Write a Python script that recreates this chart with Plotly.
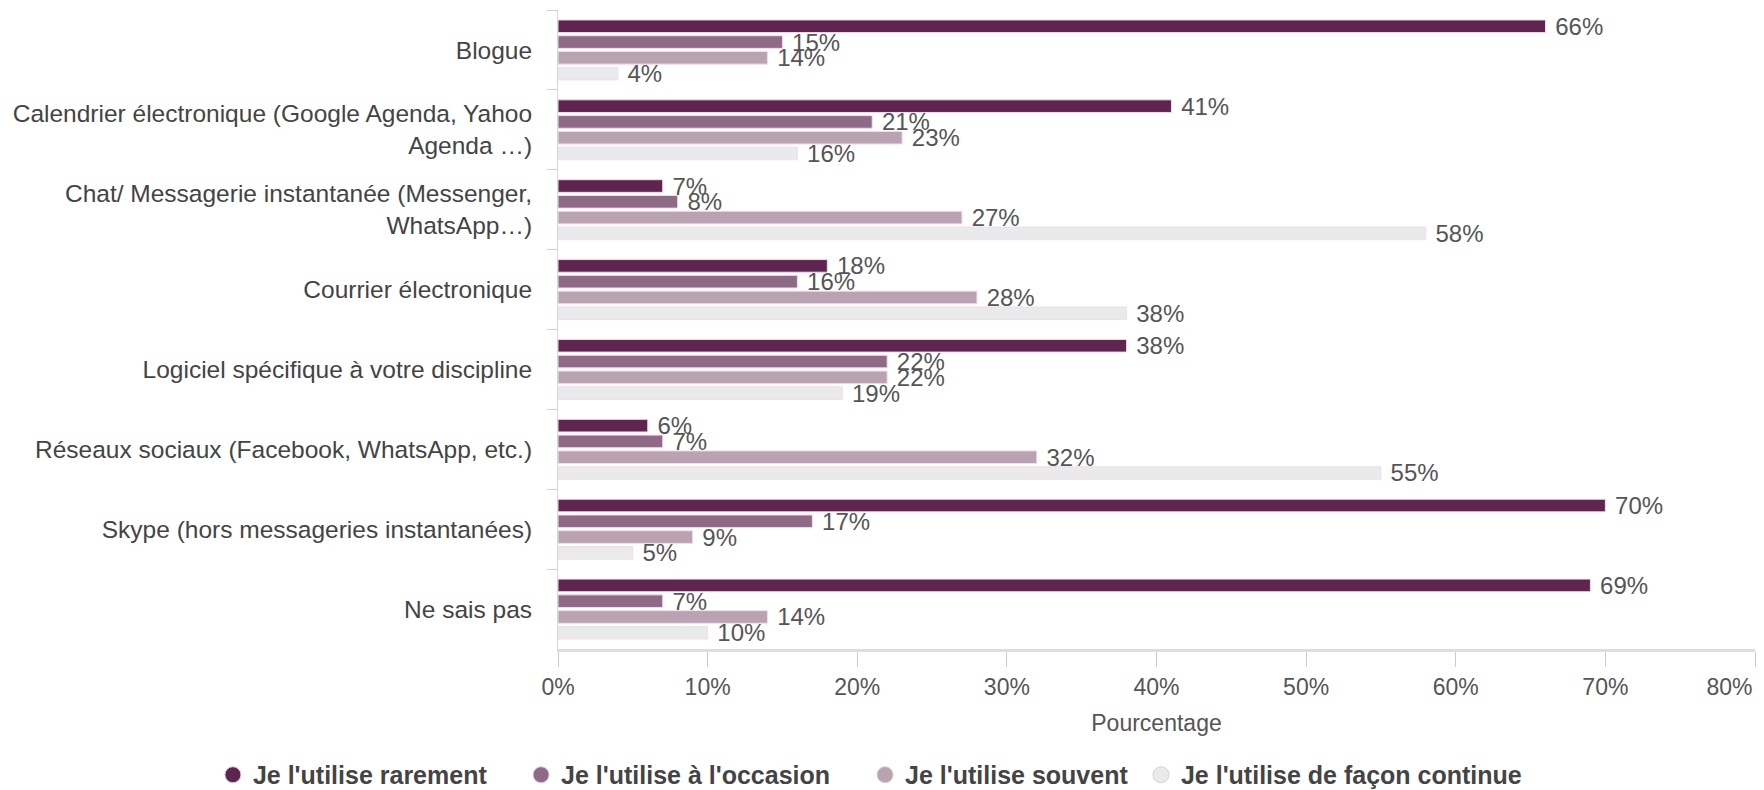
import plotly.graph_objects as go

categories = [
    "Blogue",
    "Calendrier électronique (Google Agenda, Yahoo<br>Agenda …)",
    "Chat/ Messagerie instantanée (Messenger,<br>WhatsApp…)",
    "Courrier électronique",
    "Logiciel spécifique à votre discipline",
    "Réseaux sociaux (Facebook, WhatsApp, etc.)",
    "Skype (hors messageries instantanées)",
    "Ne sais pas",
]

series_names = [
    "Je l'utilise rarement",
    "Je l'utilise à l'occasion",
    "Je l'utilise souvent",
    "Je l'utilise de façon continue",
]

rarement = [66, 41, 7, 18, 38, 6, 70, 69]
occasion = [15, 21, 8, 16, 22, 7, 17, 7]
souvent = [14, 23, 27, 28, 22, 32, 9, 14]
continue_ = [4, 16, 58, 38, 19, 55, 5, 10]

x_ticks = [0, 10, 20, 30, 40, 50, 60, 70, 80]
x_tick_labels = ["0%", "10%", "20%", "30%", "40%", "50%", "60%", "70%", "80%"]

colors = ["#5e2550", "#8e6a87", "#b9a3b3", "#e9eaea"]
font = "Liberation Sans, Arial, sans-serif"
nb = "\u00a0"

# one small legend per series so the row can be wider than the plot area
legend_ids = ["legend", "legend2", "legend3", "legend4"]
legend_x = [0.1207, 0.2954, 0.4904, 0.6468]

fig = go.Figure()
for name, vals, col, lg in zip(series_names, [rarement, occasion, souvent, continue_],
                               colors, legend_ids):
    fig.add_trace(go.Bar(
        y=categories, x=vals, orientation="h", name=name,
        marker=dict(color=col, line=dict(color="#f3dcec", width=1)),
        text=[f" {v}%" for v in vals], textposition="outside",
        textfont=dict(size=24, color="#555555", family=font),
        constraintext="none", cliponaxis=False, showlegend=False,
    ))
    # circle markers for the legend
    fig.add_trace(go.Scatter(
        x=[None], y=[None], mode="markers", name=name, legend=lg,
        marker=dict(symbol="circle", size=22, color=col,
                    line=dict(color="#d8d0d6", width=1)),
    ))

# last tick label nudged left so it stays inside the page
tick_text = x_tick_labels[:-1] + [x_tick_labels[-1] + nb * 8]

legend_style = dict(
    orientation="h", xref="container", yref="container",
    xanchor="left", y=0.019, yanchor="middle",
    font=dict(size=25, color="#444444", family=font, weight="bold"),
    itemsizing="trace", bgcolor="rgba(0,0,0,0)",
)

fig.update_layout(
    width=1764, height=790,
    margin=dict(l=558, r=9, t=10, b=141, autoexpand=False),
    plot_bgcolor="white", paper_bgcolor="white",
    barmode="group", bargap=0.21, bargroupgap=0.2,
    font=dict(family=font, size=24, color="#444444"),
    **{lg: dict(legend_style, x=lx) for lg, lx in zip(legend_ids, legend_x)},
)
fig.update_xaxes(
    range=[0, 80], tickvals=x_ticks, ticktext=tick_text,
    ticklabeloverflow="allow",
    showgrid=False, zeroline=False,
    showline=True, linecolor="#dddddd", linewidth=3,
    ticks="outside", ticklen=15, tickcolor="#cccccc",
    tickfont=dict(size=23, color="#555555"),
    title=dict(text="Pourcentage", font=dict(size=23, color="#555555"), standoff=17),
)
fig.update_yaxes(
    autorange="reversed", showgrid=False,
    showline=True, linecolor="#d0d6e4", linewidth=1,
    ticks="outside", tickson="boundaries", ticklen=10, tickcolor="#c8d0e0",
    ticklabelstandoff=20,
    tickfont=dict(size=24.5, color="#444444"),
)

fig.write_html("out.html", config={"displayModeBar": False},
               post_script="document.body.style.margin='0';")
